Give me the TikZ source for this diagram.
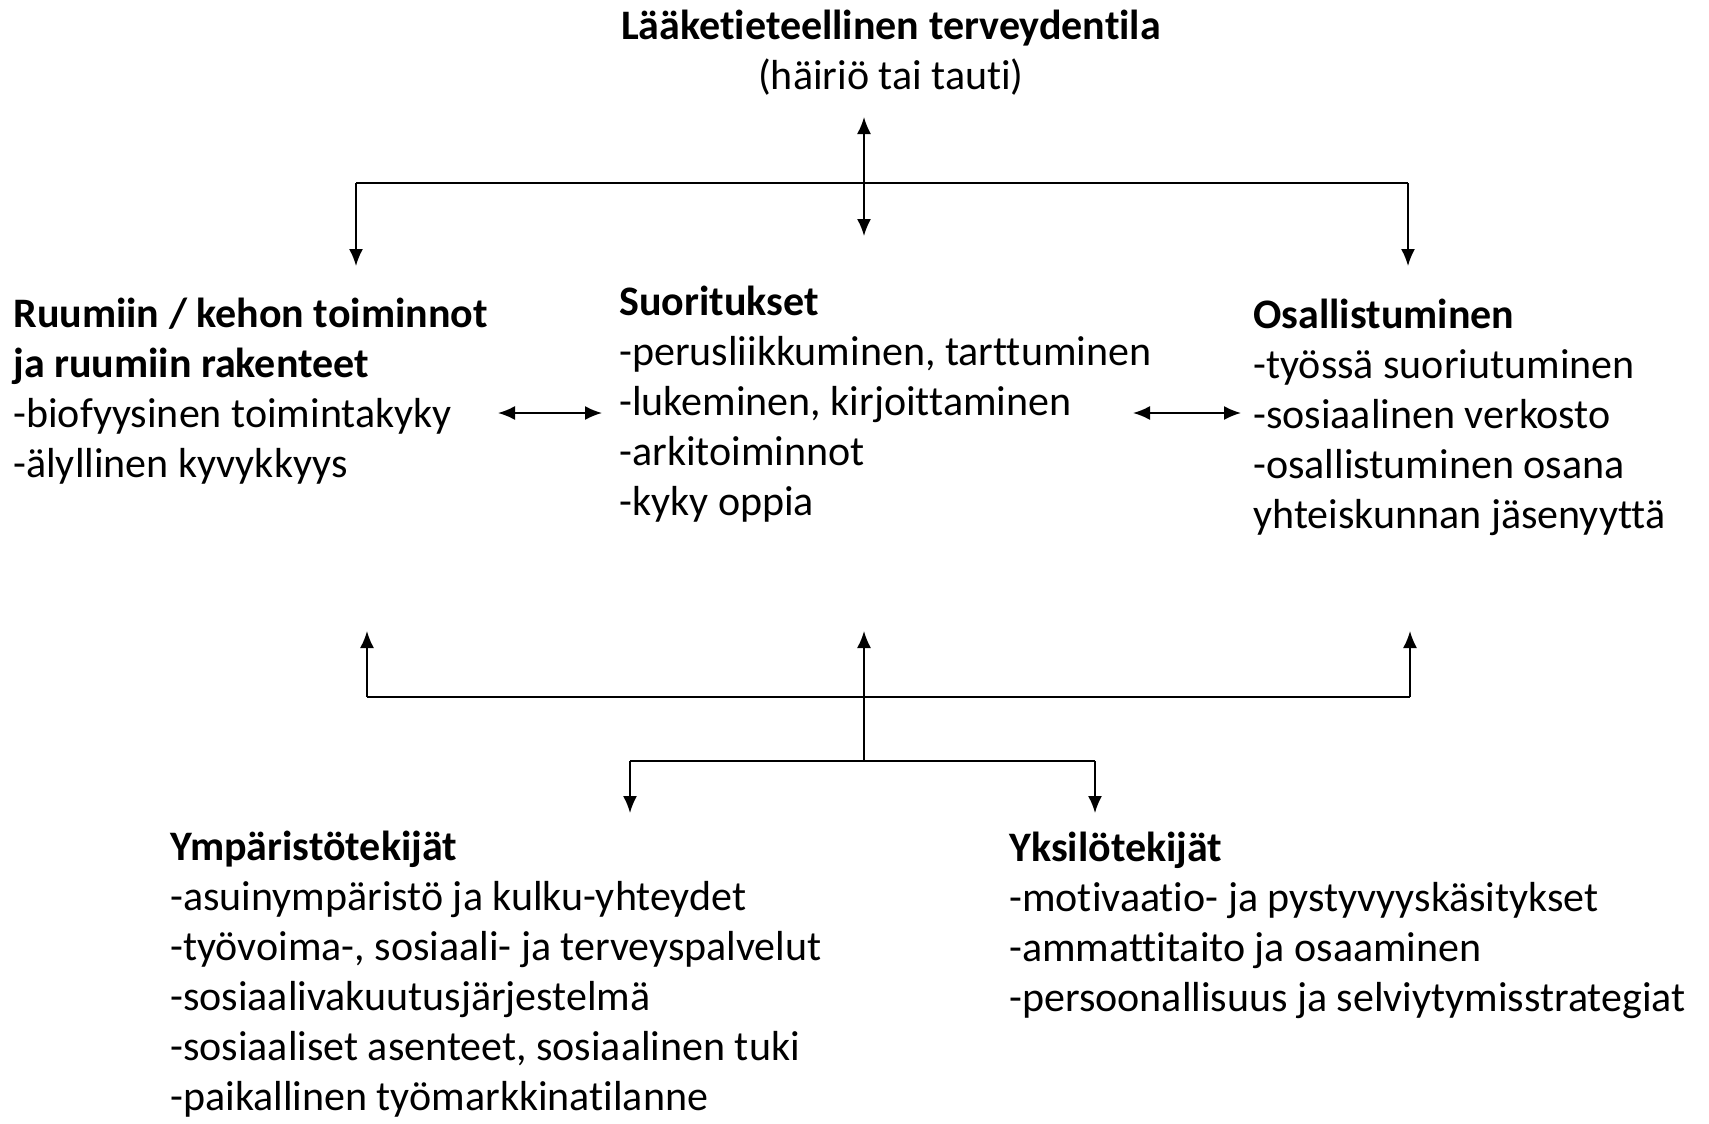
\documentclass[tikz,border=0pt]{standalone}
\usepackage{fontspec}
\setmainfont[Ligatures=NoCommon]{Carlito}
\usetikzlibrary{arrows.meta,positioning,calc}

\begin{document}
\begin{tikzpicture}[x=0.5pt,y=-0.5pt,
    lohko/.style={anchor=base west,align=left,inner sep=0pt,font=\fontsize{21}{25}\selectfont},
    viiva/.style={line width=0.9pt},
    nuoli/.style={viiva,-{Latex[length=8.5pt,width=7pt]}},
    kaksi/.style={viiva,{Latex[length=8.5pt,width=7pt]}-{Latex[length=8.5pt,width=7pt]}}]
    \useasboundingbox (0,0) rectangle (1709,1124);

    % ankkuri base = viimeisen rivin perusviiva
    \node[lohko,align=center,anchor=base] (tila) at (891,90)
      {\textbf{Lääketieteellinen terveydentila}\\(häiriö tai tauti)};
    \node[lohko] (ruumis) at (13,477)
      {\textbf{Ruumiin / kehon toiminnot}\\\textbf{ja ruumiin rakenteet}\\-biofyysinen toimintakyky\\-älyllinen kyvykkyys};
    \node[lohko] (suor) at (619,515)
      {\textbf{Suoritukset}\\-perusliikkuminen, tarttuminen\\-lukeminen, kirjoittaminen\\-arkitoiminnot\\-kyky oppia};
    \node[lohko] (osall) at (1253,528)
      {\textbf{Osallistuminen}\\-työssä suoriutuminen\\-sosiaalinen verkosto\\-osallistuminen osana\\yhteiskunnan jäsenyyttä};
    \node[lohko] (ymparisto) at (170,1110)
      {\textbf{Ympäristötekijät}\\-asuinympäristö ja kulku-yhteydet\\-työvoima-, sosiaali- ja terveyspalvelut\\-sosiaalivakuutusjärjestelmä\\-sosiaaliset asenteet, sosiaalinen tuki\\-paikallinen työmarkkinatilanne};
    \node[lohko] (yksilo) at (1009,1011)
      {\textbf{Yksilötekijät}\\-motivaatio- ja pystyvyyskäsitykset\\-ammattitaito ja osaaminen\\-persoonallisuus ja selviytymisstrategiat};

    % ylempi haarukka
    \coordinate (tilaA) at (864,117);
    \coordinate (suorY) at (864,236);
    \coordinate (ylaV) at (356,183);
    \coordinate (ylaO) at (1408,183);
    \coordinate (ruumisK) at (356,266);
    \coordinate (osallK) at (1408,266);
    \draw[viiva] (ylaV) -- (ylaO);
    \draw[nuoli] (ylaV) -- (ruumisK);
    \draw[nuoli] (ylaO) -- (osallK);
    \draw[kaksi] (tilaA) -- (suorY);

    % keskirivin nuolet
    \coordinate (vasA) at (498,413);
    \coordinate (vasB) at (602,413);
    \coordinate (oikA) at (1133,413);
    \coordinate (oikB) at (1241,413);
    \draw[kaksi] (vasA) -- (vasB);
    \draw[kaksi] (oikA) -- (oikB);

    % alempi haarukka
    \foreach \x/\n in {367/a,864/b,1410/c} {
      \coordinate (ala\n) at (\x,697);
      \coordinate (ylos\n) at (\x,631);
    }
    \coordinate (haara) at (864,761);
    \draw[viiva] (alaa) -- (alac);
    \draw[nuoli] (alaa) -- (ylosa);
    \draw[nuoli] (alac) -- (ylosc);
    \draw[nuoli] (haara) -- (ylosb);
    \coordinate (haaraV) at (630,761);
    \coordinate (haaraO) at (1095,761);
    \coordinate (ymparK) at (630,813);
    \coordinate (yksK) at (1095,813);
    \draw[viiva] (haaraV) -- (haaraO);
    \draw[nuoli] (haaraV) -- (ymparK);
    \draw[nuoli] (haaraO) -- (yksK);
\end{tikzpicture}
\end{document}
